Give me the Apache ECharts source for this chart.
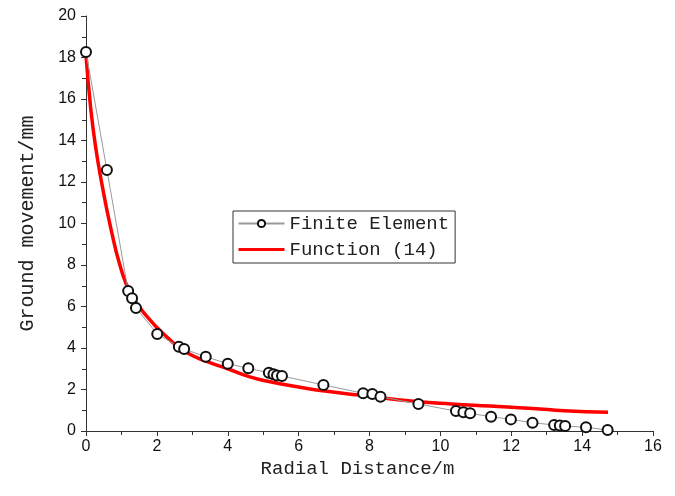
<!DOCTYPE html>
<html>
<head>
<meta charset="utf-8">
<script src="https://cdn.jsdelivr.net/npm/echarts@6/dist/echarts.min.js"></script>
<style>
html,body{margin:0;padding:0;background:#fff;}
#c{width:675px;height:496px;}
</style>
</head>
<body>
<div id="c"></div>
<script>
const xTicks = [0, 2, 4, 6, 8, 10, 12, 14, 16];
const yTicks = [0, 2, 4, 6, 8, 10, 12, 14, 16, 18, 20];

const feX = [0, 0.59, 1.19, 1.30, 1.41, 2.01, 2.62, 2.77, 3.38, 4.0, 4.58, 5.16, 5.29, 5.39, 5.53, 6.70, 7.82, 8.08, 8.31, 9.38, 10.44, 10.65, 10.84, 11.43, 11.99, 12.6, 13.21, 13.37, 13.52, 14.11, 14.72];
const feY = [18.27, 12.58, 6.75, 6.4, 5.93, 4.68, 4.06, 3.95, 3.58, 3.24, 3.02, 2.81, 2.73, 2.68, 2.65, 2.22, 1.82, 1.78, 1.65, 1.30, 0.96, 0.90, 0.85, 0.69, 0.56, 0.40, 0.29, 0.26, 0.24, 0.18, 0.05];

const fnX = [0, 0.13, 0.27, 0.46, 0.69, 0.97, 1.26, 1.73, 2.3, 2.77, 3.4, 4.0, 4.6, 5.2, 6.0, 6.5, 7.72, 9.32, 10.3, 11.4, 12.6, 13.5, 14.73];
const fnY = [18.1, 15.6, 13.7, 11.8, 9.85, 7.92, 6.64, 5.5, 4.5, 3.85, 3.35, 3.0, 2.62, 2.37, 2.12, 1.98, 1.73, 1.42, 1.30, 1.2, 1.09, 0.98, 0.9];

const seriesNames = ['Finite Element', 'Function (14)'];

const chart = echarts.init(document.getElementById('c'), null, {renderer: 'canvas'});
const monoFont = '"Liberation Mono", "DejaVu Sans Mono", monospace';
chart.setOption({
  animation: false,
  backgroundColor: '#fff',
  grid: {left: 86, right: 22, top: 16, bottom: 65, containLabel: false},
  legend: {
    left: 233, top: 211,
    orient: 'vertical',
    borderColor: '#333', borderWidth: 1,
    padding: [3, 6, 4, 4],
    itemGap: 7,
    itemWidth: 46, itemHeight: 9,
    textStyle: {fontFamily: monoFont, fontSize: 19, color: '#222'},
    data: [
      {name: seriesNames[0]},
      {name: seriesNames[1], itemStyle: {opacity: 0}, lineStyle: {color: '#ff0000', width: 3}}
    ]
  },
  xAxis: {
    type: 'value', min: xTicks[0], max: xTicks[xTicks.length - 1], interval: 2,
    name: 'Radial Distance/m', nameLocation: 'middle', nameGap: 15,
    nameTextStyle: {fontFamily: monoFont, fontSize: 19, color: '#222', verticalAlign: 'top', padding: [0, 24, 0, 0]},
    axisLine: {onZero: false, lineStyle: {color: '#333', width: 1}},
    axisTick: {show: true, inside: false, length: 5, lineStyle: {color: '#333'}},
    minorTick: {show: true, splitNumber: 2, length: 4, lineStyle: {color: '#333'}},
    axisLabel: {fontFamily: '"Liberation Sans", Arial, sans-serif', fontSize: 16, color: '#111', margin: 8},
    splitLine: {show: false}
  },
  yAxis: {
    type: 'value', min: yTicks[0], max: yTicks[yTicks.length - 1], interval: 2,
    name: 'Ground movement/mm', nameLocation: 'middle', nameGap: 48,
    nameTextStyle: {fontFamily: monoFont, fontSize: 20, color: '#222'},
    axisLine: {show: true, onZero: false, lineStyle: {color: '#333', width: 1}},
    axisTick: {show: true, inside: false, length: 5, lineStyle: {color: '#333'}},
    minorTick: {show: true, splitNumber: 2, length: 4, lineStyle: {color: '#333'}},
    axisLabel: {fontFamily: '"Liberation Sans", Arial, sans-serif', fontSize: 16, color: '#111', margin: 10},
    splitLine: {show: false}
  },
  series: [
    {
      name: seriesNames[0], type: 'line',
      data: feX.map((x, i) => [x, feY[i]]),
      symbol: 'emptyCircle', symbolSize: 10,
      lineStyle: {color: '#9a9a9a', width: 1},
      itemStyle: {color: '#111', borderColor: '#111', borderWidth: 1},
      z: 3
    },
    {
      name: seriesNames[1], type: 'line',
      data: fnX.map((x, i) => [x, fnY[i]]),
      smooth: true, symbol: 'none',
      lineStyle: {color: '#ff0000', width: 3.5},
      itemStyle: {color: '#ff0000'},
      z: 2
    }
  ]
});
</script>
</body>
</html>
